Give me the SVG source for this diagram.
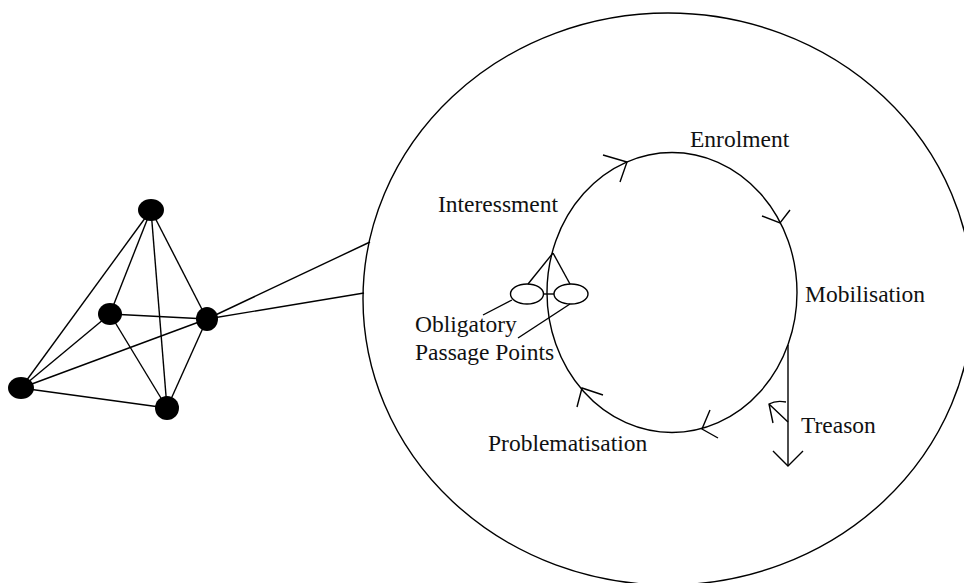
<svg xmlns="http://www.w3.org/2000/svg" width="964" height="583" viewBox="0 0 964 583">
<style>
.ln{stroke:#000;stroke-width:1.4;fill:none}
.nd{fill:#000;stroke:none}
.tx{font-family:"Liberation Serif","Times New Roman",serif;font-size:23.5px;fill:#111}
</style>
<rect width="964" height="583" fill="#fff"/>
<g id="connectors" class="ln">
<line x1="151" y1="210" x2="21" y2="388"/>
<line x1="151" y1="210" x2="110" y2="314"/>
<line x1="151" y1="210" x2="167" y2="408"/>
<line x1="151" y1="210" x2="207" y2="319"/>
<line x1="110" y1="314" x2="207" y2="319"/>
<line x1="110" y1="314" x2="21" y2="388"/>
<line x1="110" y1="314" x2="167" y2="408"/>
<line x1="207" y1="319" x2="21" y2="388"/>
<line x1="207" y1="319" x2="167" y2="408"/>
<line x1="21" y1="388" x2="167" y2="408"/>
<line x1="207" y1="319" x2="370" y2="242"/>
<line x1="207" y1="319" x2="364" y2="293"/>
</g>
<g id="network-nodes">
<ellipse id="n1" class="nd" cx="151" cy="210" rx="13" ry="11"/>
<ellipse id="n2" class="nd" cx="110" cy="314" rx="12" ry="11"/>
<ellipse id="n3" class="nd" cx="207" cy="319" rx="11" ry="12"/>
<ellipse id="n4" class="nd" cx="21" cy="388" rx="13" ry="11"/>
<ellipse id="n5" class="nd" cx="167" cy="408" rx="12" ry="12"/>
</g>
<g id="outer-circle">
<ellipse class="ln" cx="668" cy="299" rx="305" ry="286"/>
</g>
<g id="translation-cycle" class="ln">
<ellipse cx="672" cy="292.5" rx="125" ry="140"/>
<polyline points="603,155 627,162 620,182"/>
<polyline points="762,216 780,223 790,210"/>
<polyline points="710,410 702,429 718,438"/>
<polyline points="603,395 582,388 577,407"/>
</g>
<g id="opp" class="ln">
<ellipse cx="527" cy="294" rx="16.5" ry="10"/>
<ellipse cx="571" cy="294" rx="17" ry="10"/>
<line x1="543.5" y1="294" x2="554" y2="294"/>
<line x1="553" y1="253" x2="528" y2="284"/>
<line x1="553" y1="253" x2="570" y2="284"/>
<line x1="483" y1="315" x2="512" y2="300"/>
<line x1="518" y1="338" x2="570" y2="304"/>
</g>
<g id="treason" class="ln">
<line x1="788" y1="345" x2="788" y2="466"/>
<polyline points="773,451 788,466 803,451"/>
<path d="M788,422 L769,404 M786,402 Q776,400 769,404 L773,423"/>
</g>
<g id="labels" class="tx">
<text x="438" y="212">Interessment</text>
<text x="690" y="147">Enrolment</text>
<text x="805" y="302">Mobilisation</text>
<text x="801" y="433">Treason</text>
<text x="488" y="451">Problematisation</text>
<text x="415" y="332">Obligatory</text>
<text x="415" y="360">Passage Points</text>
</g>
</svg>
